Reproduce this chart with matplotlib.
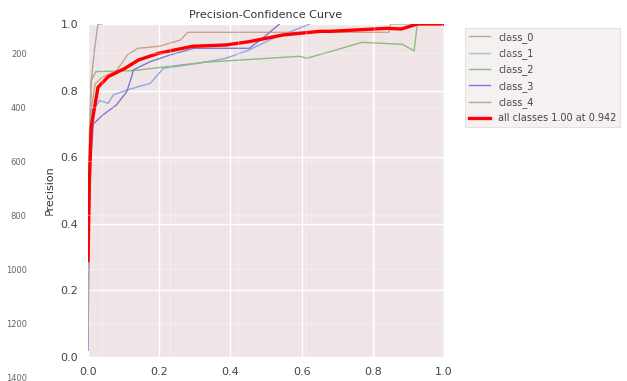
import numpy as np
import matplotlib
matplotlib.use("Agg")
import matplotlib.pyplot as plt

# per-class precision vs confidence
conf_0 = [0.0, 0.005, 0.01, 0.02, 0.04, 0.06, 0.08, 0.10, 0.11, 0.14, 0.20, 0.26, 0.28, 0.845, 0.85, 1.0]
prec_0 = [0.30, 0.60, 0.75, 0.82, 0.84, 0.85, 0.86, 0.89, 0.907, 0.927, 0.933, 0.952, 0.975, 0.975, 1.0, 1.0]

conf_1 = [0.0, 0.003, 0.01, 0.033, 0.057, 0.071, 0.11, 0.175, 0.212, 0.31, 0.387, 0.453, 0.51, 0.623]
prec_1 = [0.10, 0.45, 0.737, 0.77, 0.762, 0.787, 0.802, 0.822, 0.867, 0.882, 0.897, 0.922, 0.952, 1.0]

conf_2 = [0.0, 0.004, 0.009, 0.022, 0.127, 0.326, 0.595, 0.614, 0.68, 0.77, 0.883, 0.895, 0.916, 0.925, 1.0]
prec_2 = [0.20, 0.60, 0.83, 0.857, 0.86, 0.885, 0.903, 0.897, 0.917, 0.945, 0.939, 0.932, 0.919, 1.0, 1.0]

conf_3 = [0.0, 0.002, 0.005, 0.015, 0.042, 0.08, 0.109, 0.123, 0.127, 0.175, 0.231, 0.297, 0.453, 0.49, 0.538]
prec_3 = [0.02, 0.24, 0.55, 0.70, 0.727, 0.757, 0.797, 0.843, 0.862, 0.887, 0.907, 0.927, 0.927, 0.957, 1.0]

conf_4 = [0.0, 0.002, 0.004, 0.009, 0.019, 0.028, 0.04]
prec_4 = [0.05, 0.40, 0.67, 0.83, 0.93, 1.0, 1.0]

conf_all = [0.0, 0.004, 0.009, 0.028, 0.057, 0.104, 0.142, 0.198, 0.293, 0.387, 0.453, 0.547, 0.652, 0.68, 0.84, 0.88, 0.925, 1.0]
prec_all = [0.29, 0.53, 0.69, 0.81, 0.842, 0.867, 0.892, 0.912, 0.933, 0.937, 0.947, 0.967, 0.978, 0.978, 0.987, 0.985, 1.0, 1.0]

class_names = ["class_0", "class_1", "class_2", "class_3", "class_4"]
class_colors = ["#c9a48c", "#8ea8e2", "#8dbb7c", "#7b7bd2", "#bf9e9e"]

# outer image-frame ticks
outer_yticks = [200, 400, 600, 800, 1000, 1200, 1400]
outer_xticks = [250, 500, 750, 1000, 1250, 1500, 1750, 2000]

W, H = 627, 381
fig = plt.figure(figsize=(W / 100, H / 100), dpi=100)
fig.patch.set_facecolor("white")

ax = fig.add_axes([88 / W, 1 - 357 / H, (444 - 88) / W, (357 - 24) / H])
ax.set_facecolor("#efe5e7")
for s in ax.spines.values():
    s.set_visible(False)
ax.grid(True, color="white", linewidth=1.0)
ax.set_axisbelow(True)

xs = [conf_0, conf_1, conf_2, conf_3, conf_4]
ys = [prec_0, prec_1, prec_2, prec_3, prec_4]
for cx, py, name, col in zip(xs, ys, class_names, class_colors):
    ax.plot(cx, py, linewidth=1.0, color=col, label=name)
ax.plot(conf_all, prec_all, linewidth=2.4, color="red", label="all classes 1.00 at 0.942")

ax.set_xlim(0, 1)
ax.set_ylim(0, 1)
ax.set_xticks([0, 0.2, 0.4, 0.6, 0.8, 1.0])
ax.set_yticks([0, 0.2, 0.4, 0.6, 0.8, 1.0])
ax.tick_params(length=0, labelsize=8, labelcolor="#444444", pad=7)
ax.set_ylabel("Precision", fontsize=8, color="#333333", labelpad=4)
ax.set_title("Precision-Confidence Curve", fontsize=8, color="#333333", pad=4)

leg = ax.legend(loc="upper left", bbox_to_anchor=(465 / W, 1 - 28 / H),
                bbox_transform=fig.transFigure, borderaxespad=0, fontsize=7,
                frameon=True, fancybox=False, handlelength=2.2,
                labelspacing=0.55, labelcolor="#444444")
leg.get_frame().set_facecolor("#f3eeee")
leg.get_frame().set_edgecolor("#dddddd")
leg.get_frame().set_linewidth(0.8)

# outer frame of the screenshot: faint grid and pixel ticks
outer = fig.add_axes([35 / W, 0, (W - 35) / W, 1], zorder=5)
outer.set_facecolor("none")
for s in outer.spines.values():
    s.set_visible(False)
outer.set_xlim(3.7, 3.7 + (W - 35) * 3.676)
outer.set_ylim(3.7 + H * 3.7037, 3.7)
outer.set_yticks(outer_yticks)
outer.set_xticks(outer_xticks)
outer.set_xticklabels([])
outer.tick_params(length=0, labelsize=6, labelcolor="#666666", pad=6)
outer.grid(True, color="white", linewidth=0.9, alpha=0.3)

fig.savefig("out.png", dpi=100)
